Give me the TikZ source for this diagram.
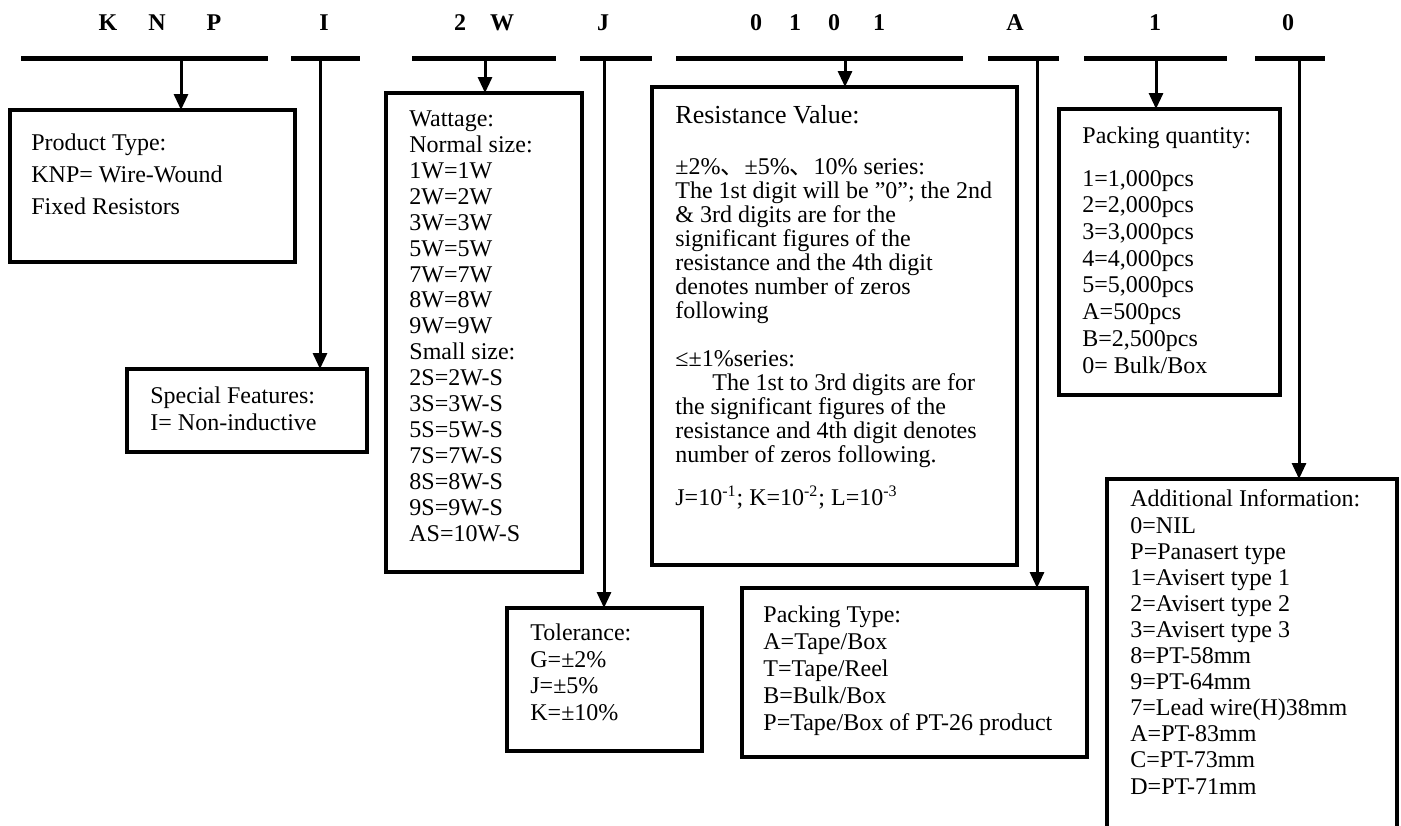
\documentclass[tikz,border=0pt]{standalone}
\usepackage{fontspec}
\setmainfont{Liberation Serif}
\newfontfamily\cjk{Noto Sans CJK SC}
\usetikzlibrary{positioning,arrows.meta}

\begin{document}
\begin{tikzpicture}
  [x=0.5pt,y=-0.5pt,
   infobox/.style={draw,line width=1.7pt,inner sep=0pt,outer sep=0pt,anchor=north west},
   info/.style={anchor=base west,align=left,inner sep=0pt},
   code/.style={font=\fontsize{12}{14}\selectfont\bfseries,anchor=base},
   arr/.style={line width=1.5pt,-{Triangle[width=7pt,length=8pt]}}]
  \useasboundingbox (0,0) rectangle (1401,825);

  % code letters and bars
  \foreach \x/\t in {108/K,157/N,214/P,324/I,460/2,502/W,603/J,756/0,795/1,834/0,879/1,1015/A,1155/1,1288/0}
    \node[code] (l\x) at (\x,30) {\t};
  \foreach \a/\b in {21/268,291/360,412/556,580/652,676/963,988/1059,1084/1227,1255/1325}
    \draw[line width=2.5pt] (\a,58) -- (\b,58);

  \coordinate (dKNP) at (181,58);
  \coordinate (dI) at (320,58);
  \coordinate (dW) at (485,58);
  \coordinate (dJ) at (604,58);
  \coordinate (dR) at (845,58);
  \coordinate (dA) at (1037,58);
  \coordinate (dQ) at (1156,58);
  \coordinate (dX) at (1299,58);

  % boxes
  \node[infobox,minimum width=142.5pt,minimum height=76pt] (prod) at (10,110) {};
  \node[infobox,minimum width=120pt,minimum height=41.5pt] (feat) at (127,369) {};
  \node[infobox,minimum width=98pt,minimum height=239.5pt] (watt) at (386,93) {};
  \node[infobox,minimum width=97.5pt,minimum height=71.5pt] (tol) at (507,608) {};
  \node[infobox,minimum width=182.5pt,minimum height=239pt] (res) at (652,87) {};
  \node[infobox,minimum width=172.5pt,minimum height=84.5pt] (ptype) at (742,588) {};
  \node[infobox,minimum width=110.5pt,minimum height=143pt] (pqty) at (1059,109) {};
  \node[infobox,minimum width=145pt,minimum height=180pt] (addi) at (1107,479) {};

  % texts (placed at the baseline of their last line)
  \node[info,font=\fontsize{12}{16}\selectfont] (prodtxt) at (31,214)
    {Product Type:\\KNP= Wire-Wound\\Fixed Resistors};
  \node[info,font=\fontsize{12}{13.5}\selectfont] (feattxt) at (150,430)
    {Special Features:\\I= Non-inductive};
  \node[info,font=\fontsize{12}{12.95}\selectfont] (watttxt) at (409,541)
    {Wattage:\\Normal size:\\1W=1W\\2W=2W\\3W=3W\\5W=5W\\7W=7W\\8W=8W\\9W=9W\\
     Small size:\\2S=2W-S\\3S=3W-S\\5S=5W-S\\7S=7W-S\\8S=8W-S\\9S=9W-S\\AS=10W-S};
  \node[info,font=\fontsize{12}{13.25}\selectfont] (toltxt) at (530,720)
    {Tolerance:\\G=±2\%\\J=±5\%\\K=±10\%};
  \node[info,font=\fontsize{13}{15}\selectfont] (restitle) at (675,123) {Resistance Value:};
  \node[info,font=\fontsize{12}{12}\selectfont] (restxt) at (675,505)
    {±2\%{\cjk 、}±5\%{\cjk 、}10\% series:\\
     The 1st digit will be ”0”; the 2nd\\
     \& 3rd digits are for the\\
     significant figures of the\\
     resistance and the 4th digit\\
     denotes number of zeros\\
     following\\[12pt]
     ≤±1\%series:\\
     \hspace*{18.5pt}The 1st to 3rd digits are for\\
     the significant figures of the\\
     resistance and 4th digit denotes\\
     number of zeros following.\\[8pt]
     J=10\textsuperscript{-1}; K=10\textsuperscript{-2}; L=10\textsuperscript{-3}};
  \node[info,font=\fontsize{12}{13.4}\selectfont] (ptypetxt) at (763,730)
    {Packing Type:\\A=Tape/Box\\T=Tape/Reel\\B=Bulk/Box\\P=Tape/Box of PT-26 product};
  \node[info,font=\fontsize{12}{13}\selectfont] (pqtytitle) at (1082,143) {Packing quantity:};
  \node[info,font=\fontsize{12}{13.35}\selectfont] (pqtytxt) at (1082,373)
    {1=1,000pcs\\2=2,000pcs\\3=3,000pcs\\4=4,000pcs\\5=5,000pcs\\A=500pcs\\B=2,500pcs\\0= Bulk/Box};
  \node[info,font=\fontsize{12}{13.05}\selectfont] (additxt) at (1130,794)
    {Additional Information:\\0=NIL\\P=Panasert type\\1=Avisert type 1\\2=Avisert type 2\\
     3=Avisert type 3\\8=PT-58mm\\9=PT-64mm\\7=Lead wire(H)38mm\\A=PT-83mm\\C=PT-73mm\\D=PT-71mm};

  % drops
  \foreach \d/\b in {dKNP/prod,dI/feat,dW/watt,dJ/tol,dR/res,dA/ptype,dQ/pqty,dX/addi}
    \draw[arr] (\d) -- (\d |- \b.north);

\end{tikzpicture}
\end{document}
